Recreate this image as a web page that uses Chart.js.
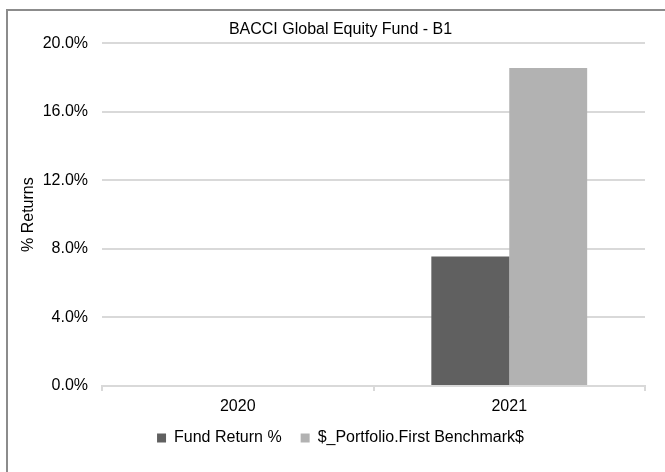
<!DOCTYPE html>
<html>
<head>
<meta charset="utf-8">
<script src="https://cdn.jsdelivr.net/npm/chart.js@4/dist/chart.umd.min.js"></script>
<style>
  html, body { margin: 0; padding: 0; background: #fff; overflow: hidden; }
  #wrap { position: relative; width: 665px; height: 472px; overflow: hidden; }
  #frame { position: absolute; left: 6px; top: 9px; width: 700px; height: 520px; border: 2px solid #8c8c8c; box-sizing: border-box; }
  canvas { position: absolute; left: 0; top: 0; }
</style>
</head>
<body>
<div id="wrap">
  <div id="frame"></div>
  <canvas id="chart" width="665" height="472"></canvas>
</div>
<script>
// -------- data --------
const years = ['2020', '2021'];
const fundReturn = [null, 7.55];
const benchmark = [null, 18.55];
const seriesNames = ['Fund Return %', '$_Portfolio.First Benchmark$'];
const yTicks = [0, 4, 8, 12, 16, 20];

const font = { family: '"Liberation Sans", Arial, sans-serif', size: 16 };
const gridGrey = '#d9d9d9';

Chart.defaults.font.family = font.family;
Chart.defaults.font.size = font.size;
Chart.defaults.color = '#000';

const options = {
    type: 'bar',
    data: {
        labels: years,
        datasets: [{
            label: seriesNames[0],
            data: fundReturn,
            backgroundColor: '#606060',
            yAxisID: 'y'
        },
        {
            label: seriesNames[1],
            data: benchmark,
            backgroundColor: '#b2b2b2',
            yAxisID: 'y'
        }]
    },
    options: {
        responsive: false,
        animation: false,
        categoryPercentage: 0.574,
        barPercentage: 1,
        layout: { padding: { left: 16, right: 0, top: 15, bottom: 16 } },
        plugins: {
            title: {
                display: true,
                text: 'BACCI Global Equity Fund - B1',
                color: '#000',
                font: { size: 16, weight: 'normal' },
                padding: { top: 5, bottom: 4 }
            },
            legend: {
                position: 'bottom',
                labels: {
                    boxWidth: 9,
                    boxHeight: 9,
                    padding: 19,
                    color: '#000',
                    font: { size: 16 }
                }
            },
            tooltip: { enabled: false }
        },
        scales: {
            x: {
                offset: true,
                afterFit: s => { s.height = 25; },
                grid: {
                    display: true,
                    offset: true,
                    drawOnChartArea: false,
                    drawTicks: true,
                    tickLength: 5,
                    color: gridGrey,
                    lineWidth: 2
                },
                border: { display: true, color: gridGrey, width: 2 },
                ticks: { padding: 6, color: '#000' }
            },
            y: {
                position: 'left',
                min: 0,
                max: 20,
                afterBuildTicks: s => { s.ticks = yTicks.map(v => ({ value: v })); },
                afterFit: s => { s.width = 86; },
                grid: { color: gridGrey, lineWidth: 2, drawTicks: false },
                border: { display: false },
                ticks: {
                    padding: 14,
                    color: '#000',
                    callback: v => v.toFixed(1) + '%'
                },
                title: {
                    display: true,
                    text: '% Returns',
                    color: '#000',
                    font: { size: 16, lineHeight: 1 },
                    padding: { top: 5, bottom: 0 }
                }
            },
            yRight: {
                position: 'right',
                display: true,
                grid: { display: false },
                border: { display: false },
                ticks: { display: false },
                afterFit: s => { s.width = 20; }
            }
        }
    }
};

const ctx = document.getElementById('chart').getContext('2d');
new Chart(ctx, options);
</script>
</body>
</html>
